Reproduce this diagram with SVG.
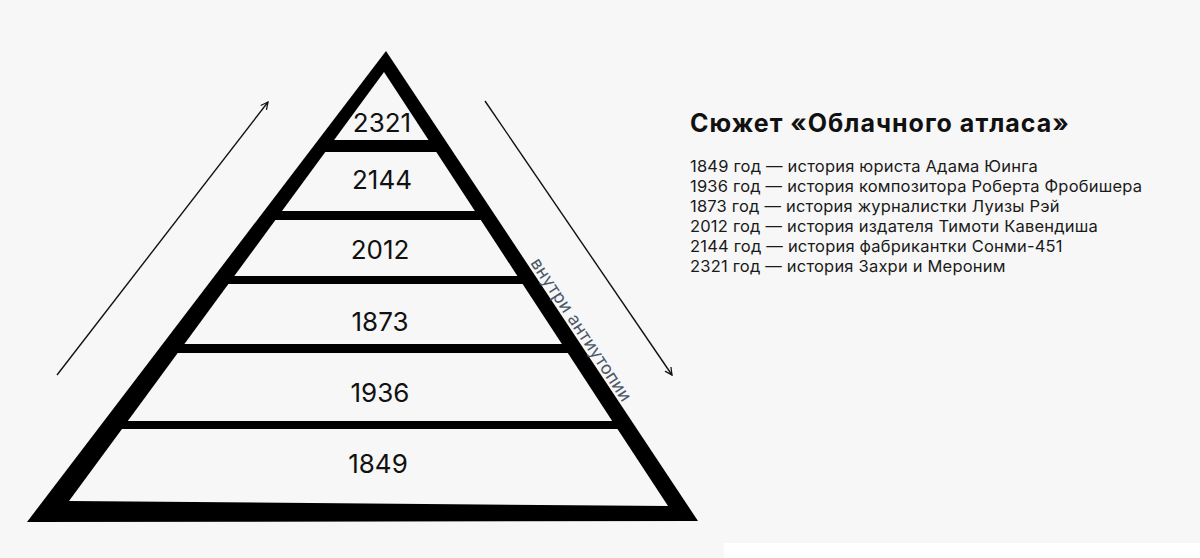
<svg xmlns="http://www.w3.org/2000/svg" width="1200" height="558" viewBox="0 0 1200 558">
  <defs>
    <style>
      .bg { fill: #f7f7f7; }
      .year { font-family: Inter, "Noto Sans", sans-serif; font-size: 26px; fill: #111; text-anchor: middle; }
      .title { font-family: Inter, "Noto Sans", sans-serif; font-size: 25px; font-weight: 700; fill: #111; letter-spacing: 1px; }
      .item { font-family: Inter, "Noto Sans", sans-serif; font-size: 16.5px; fill: #1a1a1a; letter-spacing: 0.2px; }
      .side { font-family: Inter, "Noto Sans", sans-serif; font-size: 17.5px; fill: #4a5868; letter-spacing: 0.3px; }
      .arrow { stroke: #111; stroke-width: 1.4; fill: none; }
    </style>
    <marker id="head" viewBox="0 0 10 10" refX="9" refY="5" markerWidth="9" markerHeight="9" markerUnits="userSpaceOnUse" orient="auto">
      <path d="M1,1 L9,5 L1,9" fill="none" stroke="#111" stroke-width="1.4"/>
    </marker>
  </defs>
  <rect class="bg" x="0" y="0" width="1200" height="558"/>
  <rect x="724" y="543" width="476" height="15" fill="#ffffff"/>

  <g id="pyramid">
    <polygon points="386,51 698,521 27,522" fill="#000"/>
    <polygon class="bg" points="384,72 428.5,140 334.1,140"/>
    <polygon class="bg" points="325.3,152 436.3,152 474.9,211 282,211"/>
    <polygon class="bg" points="275.4,220 480.8,220 517.4,276 234.3,276"/>
    <polygon class="bg" points="228.4,284 522.6,284 561.9,344 184.4,344"/>
    <polygon class="bg" points="177.7,353 567.8,353 612.2,421 127.8,421"/>
    <polygon class="bg" points="122,429 617.5,429 668,506 69,501"/>
  </g>

  <g id="level-2321"><text class="year" x="382" y="132">2321</text></g>
  <g id="level-2144"><text class="year" x="382" y="189">2144</text></g>
  <g id="level-2012"><text class="year" x="380" y="259">2012</text></g>
  <g id="level-1873"><text class="year" x="380" y="331">1873</text></g>
  <g id="level-1936"><text class="year" x="380" y="402">1936</text></g>
  <g id="level-1849"><text class="year" x="378" y="473">1849</text></g>

  <g id="side-label">
    <text class="side" transform="translate(530,263) rotate(56.5)">внутри антиутопии</text>
  </g>

  <g id="connectors">
    <line class="arrow" x1="57" y1="375" x2="268" y2="102" marker-end="url(#head)"/>
    <line class="arrow" x1="485" y1="101" x2="672" y2="375" marker-end="url(#head)"/>
  </g>

  <g id="legend">
    <text class="title" x="690" y="132">Сюжет «Облачного атласа»</text>
    <text class="item" x="690" y="172">1849 год — история юриста Адама Юинга</text>
    <text class="item" x="690" y="192">1936 год — история композитора Роберта Фробишера</text>
    <text class="item" x="690" y="212">1873 год — история журналистки Луизы Рэй</text>
    <text class="item" x="690" y="232">2012 год — история издателя Тимоти Кавендиша</text>
    <text class="item" x="690" y="252">2144 год — история фабрикантки Сонми-451</text>
    <text class="item" x="690" y="272">2321 год — история Захри и Мероним</text>
  </g>
</svg>
